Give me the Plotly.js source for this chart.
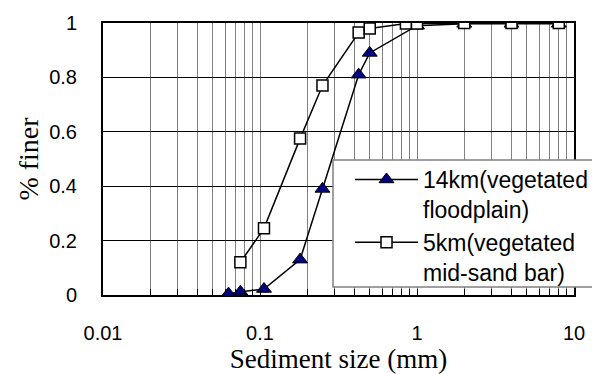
<!DOCTYPE html>
<html>
<head>
<meta charset="utf-8">
<script src="https://cdn.plot.ly/plotly-3.0.1.min.js"></script>
<style>html,body{margin:0;padding:0;background:#fff;}#chart{width:592px;height:374px;}</style>
</head>
<body>
<div id="chart"></div>
<script>
// Data
const sizes14 = [0.063, 0.075, 0.106, 0.18, 0.25, 0.425, 0.5, 1, 2, 4, 8];
const finer14 = [0.005, 0.012, 0.022, 0.13, 0.39, 0.81, 0.89, 0.99, 0.997, 0.997, 0.997];
const sizes5 = [0.075, 0.106, 0.18, 0.25, 0.425, 0.5, 0.85, 1, 2, 4, 8];
const finer5 = [0.12, 0.245, 0.575, 0.77, 0.965, 0.98, 0.998, 0.998, 1.0, 1.0, 1.0];
const name14 = '14km(vegetated<br>floodplain)';
const name5 = '5km(vegetated<br>mid-sand bar)';
const xTickVals = [0.01, 0.1, 1, 10];
const xTickText = ['0.01', '0.1', '1', '10'];

const traces = [
  {x: sizes14, y: finer14, name: name14, type: 'scatter', mode: 'lines+markers',
   line: {color: '#000', width: 1.5},
   marker: {symbol: 'triangle-up', size: 13, color: '#000080', line: {color: '#000', width: 1}}},
  {x: sizes5, y: finer5, name: name5, type: 'scatter', mode: 'lines+markers',
   line: {color: '#000', width: 1.5},
   marker: {symbol: 'square', size: 11, color: '#fff', line: {color: '#000', width: 1.5}}}
];

const layout = {
  width: 592, height: 374,
  margin: {l: 103, r: 18, t: 23, b: 79, autoexpand: false},
  paper_bgcolor: '#fff', plot_bgcolor: '#fff',
  font: {family: '"Liberation Sans", Arial, sans-serif', color: '#000'},
  showlegend: true,
  xaxis: {
    type: 'log', range: [-2, 1],
    tickvals: xTickVals, ticktext: xTickText,
    tickfont: {size: 20, family: '"Liberation Sans", Arial, sans-serif'},
    ticks: 'inside', ticklen: 6, tickcolor: '#000', tickwidth: 1,
    ticklabelstandoff: 19,
    showgrid: true, gridcolor: '#808080', gridwidth: 1,
    minor: {dtick: 'D1', showgrid: true, gridcolor: '#808080', gridwidth: 1,
            ticks: 'inside', ticklen: 6, tickcolor: '#000', tickwidth: 1},
    showline: true, linecolor: '#000', linewidth: 2, mirror: true,
    zeroline: false,
    title: {text: 'Sediment size (mm)', font: {family: '"Liberation Serif", "Times New Roman", serif', size: 27}, standoff: 6}
  },
  yaxis: {
    range: [0, 1], dtick: 0.2, tick0: 0,
    tickfont: {size: 20, family: '"Liberation Sans", Arial, sans-serif'},
    ticks: '', ticklabelstandoff: 20,
    showgrid: true, gridcolor: '#000', gridwidth: 1,
    showline: true, linecolor: '#000', linewidth: 2, mirror: true,
    zeroline: false,
    title: {text: '% finer', font: {family: '"Liberation Serif", "Times New Roman", serif', size: 28}, standoff: 2}
  },
  shapes: [
    {type: 'rect', xref: 'paper', yref: 'paper', layer: 'above',
     x0: (333 - 103) / 471, x1: 1.2, y0: (295 - 287) / 272, y1: (295 - 160) / 272,
     fillcolor: '#fff', line: {color: '#808080', width: 1.5}}
  ],
  legend: {
    x: (350 - 103) / 471, y: (295 - 158) / 272, xanchor: 'left', yanchor: 'top',
    bgcolor: 'rgba(0,0,0,0)', borderwidth: 0,
    font: {size: 23, family: '"Liberation Sans", Arial, sans-serif', color: '#000'},
    valign: 'top', tracegroupgap: 5, itemwidth: 63
  }
};

Plotly.newPlot('chart', traces, layout, {displayModeBar: false, staticPlot: true});
</script>
</body>
</html>
